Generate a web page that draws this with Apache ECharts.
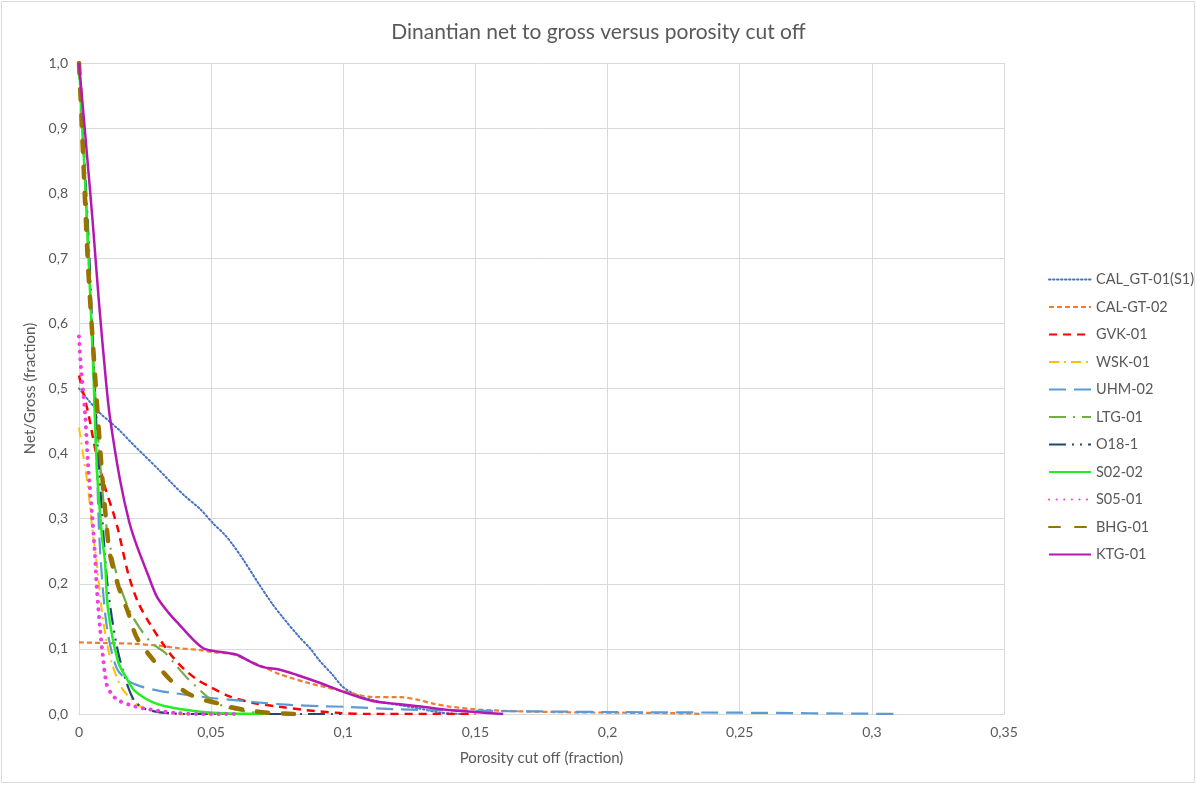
<!DOCTYPE html>
<html>
<head>
<meta charset="utf-8">
<script src="https://cdn.jsdelivr.net/npm/echarts@6/dist/echarts.min.js"></script>
<style>
html,body{margin:0;padding:0;background:#fff;}
#chart{width:1197px;height:785px;}
</style>
</head>
<body>
<div id="chart"></div>
<script>
// ---- data (x = porosity cut off, y = net/gross) ----
const seriesNames = ['CAL_GT-01(S1)','CAL-GT-02','GVK-01','WSK-01','UHM-02','LTG-01','O18-1','S02-02','S05-01','BHG-01','KTG-01'];
const xTickLabels = ['0','0,05','0,1','0,15','0,2','0,25','0,3','0,35'];
const yTickLabels = ['0,0','0,1','0,2','0,3','0,4','0,5','0,6','0,7','0,8','0,9','1,0'];

const CAL_GT_01 = [[0,0.5],[0.004,0.48],[0.008,0.462],[0.015,0.437],[0.02,0.416],[0.025,0.396],[0.03,0.376],[0.035,0.355],[0.04,0.335],[0.0458,0.315],[0.0507,0.293],[0.055,0.276],[0.058,0.261],[0.062,0.238],[0.0685,0.197],[0.073,0.17],[0.077,0.149],[0.083,0.12],[0.0874,0.101],[0.091,0.082],[0.096,0.06],[0.1,0.041],[0.1063,0.027],[0.115,0.018],[0.128,0.009],[0.137,0.002],[0.145,0]];
const CAL_GT_02 = [[0,0.11],[0.01,0.109],[0.02,0.108],[0.03,0.105],[0.038,0.101],[0.046,0.098],[0.0507,0.095],[0.058,0.092],[0.0635,0.083],[0.07,0.072],[0.076,0.061],[0.0874,0.047],[0.1,0.035],[0.106,0.029],[0.111,0.026],[0.1215,0.026],[0.128,0.022],[0.134,0.016],[0.141,0.011],[0.154,0.006],[0.18,0.003],[0.205,0.002],[0.23,0.001],[0.235,0]];
const GVK_01 = [[0,0.52],[0.0012,0.5],[0.0035,0.462],[0.0065,0.4],[0.0098,0.349],[0.0129,0.31],[0.0148,0.283],[0.0186,0.216],[0.0223,0.172],[0.0275,0.134],[0.0326,0.103],[0.036,0.085],[0.04,0.068],[0.045,0.052],[0.05,0.041],[0.057,0.027],[0.066,0.017],[0.076,0.011],[0.086,0.006],[0.099,0.0015],[0.11,0],[0.15,0]];
const WSK_01 = [[0,0.44],[0.0015,0.4],[0.003,0.36],[0.0042,0.318],[0.005,0.285],[0.0067,0.232],[0.0086,0.16],[0.0105,0.11],[0.0124,0.078],[0.016,0.041],[0.02,0.022],[0.024,0.01],[0.032,0.002],[0.04,0],[0.06,0]];
const UHM_02 = [[0,1],[0.003,0.76],[0.0055,0.52],[0.007,0.35],[0.008,0.25],[0.0105,0.135],[0.0143,0.07],[0.019,0.05],[0.0237,0.042],[0.03,0.036],[0.036,0.032],[0.0496,0.025],[0.06,0.021],[0.0697,0.017],[0.08,0.014],[0.091,0.012],[0.101,0.011],[0.1215,0.007],[0.15,0.005],[0.2,0.003],[0.25,0.002],[0.311,0]];
const LTG_01 = [[0,1],[0.003,0.76],[0.006,0.5],[0.0085,0.36],[0.0106,0.283],[0.0148,0.206],[0.019,0.16],[0.023,0.132],[0.0275,0.109],[0.0326,0.094],[0.036,0.078],[0.041,0.055],[0.0446,0.041],[0.05,0.022],[0.056,0.01],[0.063,0.004],[0.072,0]];
const O18_1 = [[0,1],[0.0035,0.74],[0.0065,0.45],[0.0085,0.32],[0.0105,0.21],[0.0124,0.149],[0.0148,0.095],[0.018,0.048],[0.021,0.02],[0.025,0.008],[0.03,0.003],[0.035,0.001],[0.04,0],[0.1,0]];
const S02_02 = [[0,1],[0.003,0.76],[0.0054,0.528],[0.0068,0.375],[0.0087,0.272],[0.0098,0.236],[0.011,0.16],[0.0148,0.08],[0.018,0.055],[0.021,0.036],[0.028,0.018],[0.035,0.01],[0.041,0.006],[0.047,0.003],[0.053,0.0015],[0.06,0.0005],[0.07,0]];
const S05_01 = [[0,0.58],[0.0008,0.53],[0.0023,0.462],[0.0034,0.385],[0.0049,0.309],[0.006,0.247],[0.0068,0.19],[0.008,0.13],[0.009,0.09],[0.0105,0.045],[0.0125,0.03],[0.0148,0.021],[0.02,0.013],[0.024,0.009],[0.03,0.005],[0.037,0.0015],[0.045,0],[0.06,0]];
const BHG_01 = [[0,1],[0.001,0.91],[0.0034,0.69],[0.006,0.525],[0.0086,0.375],[0.0105,0.287],[0.0117,0.245],[0.015,0.195],[0.0186,0.156],[0.0218,0.118],[0.0275,0.086],[0.0344,0.053],[0.041,0.032],[0.047,0.022],[0.052,0.017],[0.057,0.011],[0.065,0.005],[0.073,0.0015],[0.083,0]];
const KTG_01 = [[0,1],[0.003,0.86],[0.0052,0.755],[0.0075,0.635],[0.0101,0.516],[0.0117,0.456],[0.0155,0.36],[0.019,0.295],[0.022,0.257],[0.026,0.215],[0.0295,0.18],[0.034,0.155],[0.038,0.137],[0.043,0.115],[0.047,0.101],[0.0507,0.097],[0.056,0.094],[0.0598,0.091],[0.065,0.08],[0.0697,0.072],[0.076,0.068],[0.0825,0.06],[0.091,0.048],[0.1014,0.032],[0.111,0.02],[0.1215,0.015],[0.13,0.011],[0.14,0.006],[0.15,0.003],[0.1605,0]];

const seriesData = [CAL_GT_01, CAL_GT_02, GVK_01, WSK_01, UHM_02, LTG_01, O18_1, S02_02, S05_01, BHG_01, KTG_01];

const styles = [
  {color:'#4472C4', width:2, type:[1.5,2.5], cap:'round'},
  {color:'#ED7D31', width:2.2, type:[5,3], cap:'butt'},
  {color:'#FF0000', width:2.5, type:[8,6], cap:'butt'},
  {color:'#FFC000', width:2, type:[10,5,2,5], cap:'butt'},
  {color:'#5B9BD5', width:2.2, type:[17,8], cap:'butt'},
  {color:'#70AD47', width:2.2, type:[17,7,2,7], cap:'butt'},
  {color:'#264478', width:2.2, type:[17,6,2,6,2,6], cap:'butt'},
  {color:'#22EE22', width:2.5, type:'solid', cap:'butt'},
  {color:'#F03FE0', width:4, type:[0.1,7.5], cap:'round'},
  {color:'#997300', width:4.5, type:[11,15], cap:'round'},
  {color:'#B418B4', width:2.5, type:'solid', cap:'butt'}
];

const FONT = 'Lato, "Open Sans", sans-serif';
const chart = echarts.init(document.getElementById('chart'));
chart.setOption({
  animation:false,
  backgroundColor:'#ffffff',
  title:{
    text:'Dinantian net to gross versus porosity cut off',
    left:'center', top:17,
    textStyle:{fontFamily:FONT, fontSize:21, fontWeight:'normal', color:'#595959'}
  },
  graphic:[{type:'rect', shape:{x:1.5,y:1.5,width:1193,height:781}, style:{fill:'none', stroke:'#D9D9D9', lineWidth:1}, silent:true}],
  grid:{left:79, right:193, top:63, bottom:71, containLabel:false},
  legend:{
    orient:'vertical', left:1043, top:267,
    itemWidth:42, itemHeight:14, itemGap:12.5,
    itemStyle:{opacity:0},
    textStyle:{fontFamily:FONT, fontSize:14.5, color:'#595959'},
    data:seriesNames
  },
  xAxis:{
    type:'value', min:0, max:0.35, interval:0.05,
    name:'Porosity cut off (fraction)', nameLocation:'middle', nameGap:37,
    nameTextStyle:{fontFamily:FONT, fontSize:15, color:'#595959'},
    axisLine:{show:true, lineStyle:{color:'#D9D9D9', width:1}},
    axisTick:{show:false},
    axisLabel:{fontFamily:FONT, fontSize:14, color:'#595959', margin:11,
      formatter:(v,i)=>xTickLabels[i]},
    splitLine:{show:true, lineStyle:{color:'#D9D9D9', width:1}}
  },
  yAxis:{
    type:'value', min:0, max:1, interval:0.1,
    name:'Net/Gross (fraction)', nameLocation:'middle', nameGap:36,
    nameTextStyle:{fontFamily:FONT, fontSize:15, color:'#595959'},
    axisLine:{show:true, lineStyle:{color:'#D9D9D9', width:1}},
    axisTick:{show:false},
    axisLabel:{fontFamily:FONT, fontSize:14, color:'#595959', margin:11,
      formatter:(v,i)=>yTickLabels[i]},
    splitLine:{show:true, lineStyle:{color:'#D9D9D9', width:1}}
  },
  series: seriesNames.map((n,i)=>({
    name:n, type:'line', data:seriesData[i],
    showSymbol:false, symbol:'none', smooth:0.3, clip:true,
    lineStyle:{color:styles[i].color, width:styles[i].width, type:styles[i].type, cap:styles[i].cap},
    itemStyle:{color:styles[i].color}
  }))
});
</script>
</body>
</html>
